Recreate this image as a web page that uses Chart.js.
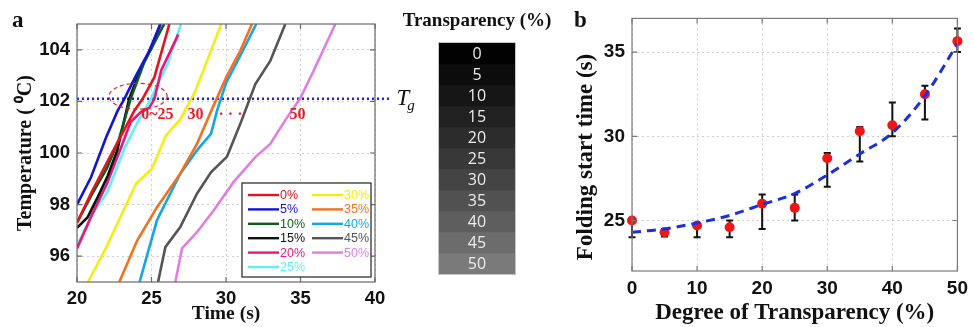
<!DOCTYPE html>
<html lang="en">
<head>
<meta charset="utf-8">
<title>Heating curves and folding start time</title>
<script src="https://cdn.jsdelivr.net/npm/chart.js@4.4.1/dist/chart.umd.min.js"></script>
<style>
  html, body { margin: 0; padding: 0; background: #fff; }
  #figure { position: relative; width: 974px; height: 327px; overflow: hidden; background: #fff; }
  #figure canvas { position: absolute; top: 0; display: block; }
</style>
</head>
<body>
<div id="figure">
  <canvas id="panelA" width="420" height="327" style="left:0"></canvas>
  <canvas id="swatch" width="160" height="327" style="left:400px"></canvas>
  <canvas id="panelB" width="404" height="327" style="left:570px"></canvas>
</div>
<script>
// ---------- Panel a: temperature vs time for each transparency ----------
const timeTicks = [20, 25, 30, 35, 40];
const tempTicks = [96, 98, 100, 102, 104];
const curveLabels = ['0%', '5%', '10%', '15%', '20%', '25%', '30%', '35%', '40%', '45%', '50%'];

// [time (s), temperature (°C)] samples of each heating curve
const curve0  = [[20, 97.3], [21, 98.5], [22.2, 99.84], [23.85, 101.64], [24.4, 102.1], [25.19, 102.93], [26.2, 105]];
const curve5  = [[20, 98.0], [20.94, 99.06], [21.95, 100.6], [22.73, 101.64], [23.18, 102.1], [23.96, 103.0], [24.8, 103.9], [25.6, 105]];
const curve10 = [[20, 97.3], [21, 98.4], [22, 99.4], [22.8, 100.5], [23.6, 102.1], [24.5, 103.5], [25.85, 105]];
const curve15 = [[20, 97.1], [20.7, 97.5], [21.4, 98.3], [22.05, 99.1], [22.7, 100.1], [23.5, 102.1], [24.3, 103.3], [25.0, 104.1], [25.6, 105]];
const curve20 = [[20, 96.3], [21, 97.6], [22, 98.8], [22.95, 100.2], [23.6, 101.2], [24.3, 101.6], [24.85, 101.75], [25.2, 102.1], [25.65, 103.2], [26.8, 104.6]];
const curve25 = [[20, 96.4], [21, 97.6], [22.05, 98.5], [23.2, 100.2], [24.07, 101.2], [24.97, 102.1], [25.41, 102.67], [26.08, 103.45], [26.98, 105]];
const curve30 = [[20.74, 95], [21.97, 96.35], [22.9, 97.5], [23.98, 98.83], [25.03, 99.39], [25.97, 100.68], [26.93, 101.3], [27.94, 102.4], [28.95, 103.9], [29.68, 105]];
const curve35 = [[22.84, 95], [24.03, 96.6], [25.37, 97.9], [26.93, 99.2], [28.05, 100.35], [29.06, 101.7], [30.07, 103.0], [30.96, 103.96], [31.74, 105]];
const curve40 = [[24.2, 95], [25.37, 97.4], [26.93, 99.2], [28.05, 100.1], [28.99, 100.74], [29.4, 101.64], [30.02, 102.74], [30.96, 103.77], [32.03, 105]];
const curve45 = [[25.44, 95], [25.93, 96.35], [26.93, 97.13], [28.05, 98.42], [28.99, 99.25], [30.07, 99.86], [30.96, 101.13], [31.97, 102.67], [32.97, 103.57], [33.98, 105]];
const curve50 = [[26.6, 95], [27.05, 96.3], [28.05, 96.93], [29.17, 97.77], [30.5, 98.87], [31.97, 99.84], [32.97, 100.35], [34.1, 101.38], [34.99, 102.13], [35.88, 103.19], [37.34, 105]];
const heatingCurves = [curve0, curve5, curve10, curve15, curve20, curve25, curve30, curve35, curve40, curve45, curve50];

// glass transition temperature and the time where its marker line stops
const tgTemp = 102.1;
const tgLineEnd = 41.1;

// dashed ring around the 0–25 % crossings and the group notes under the Tg line
const ringCenter = { t: 24.1, temp: 102.2 };
const ringHalfSpan = { t: 1.95, temp: 0.5 };
const groupNotes = [
  { text: '0~25', t: 25.4, temp: 101.48 },
  { text: '30', t: 27.95, temp: 101.48 },
  { text: '\u00b7 \u00b7 \u00b7', t: 30.3, temp: 101.48 },
  { text: '50', t: 34.8, temp: 101.48 }
];

// ---------- Middle: grey scale of transparency levels ----------
const transparencyLevels = [0, 5, 10, 15, 20, 25, 30, 35, 40, 45, 50];

// ---------- Panel b: folding start time vs transparency ----------
const degreeTicks = [0, 10, 20, 30, 40, 50];
const startTicks = [25, 30, 35];
const degree = [0, 5, 10, 15, 20, 25, 30, 35, 40, 45, 50];
const startTime = [25.0, 24.3, 24.7, 24.6, 26.0, 25.75, 28.7, 30.3, 30.65, 32.5, 35.65];
const startLow  = [24.0, 24.05, 24.0, 24.0, 24.5, 25.0, 27.0, 28.5, 30.0, 31.0, 35.0];
const startHigh = [25.0, 24.5, 24.8, 25.0, 26.55, 26.55, 29.0, 30.55, 32.0, 33.0, 36.4];
const fitDegree = [0, 5, 10, 15, 20, 25, 30, 35, 40, 45, 50];
const fitTime = [24.3, 24.5, 24.85, 25.3, 25.95, 26.6, 27.7, 28.95, 30.2, 32.4, 35.5];

// ---------- styling ----------
const SERIF = "'Liberation Serif', 'Times New Roman', serif";
const SANS = "'Liberation Sans', Arial, sans-serif";
const curveColors = ['#e3141e', '#1414d6', '#0d5c1e', '#111111', '#ea167c', '#5ff0f4',
                     '#f4ee10', '#f2711f', '#15a6e6', '#555555', '#e07fe0'];
const swatchGrays = ['#020202', '#0c0c0c', '#161616', '#212121', '#2c2c2c', '#383838',
                     '#444444', '#515151', '#5e5e5e', '#6c6c6c', '#7a7a7a'];
const noteRed = '#e41f26';

function pairsToPoints(pairs) {
  return pairs.map(p => ({ x: p[0], y: p[1] }));
}

function fixedTicks(values) {
  return scale => { scale.ticks = values.map(v => ({ value: v })); };
}

// plot box with short inward tick marks on all four sides
function framePlugin(color) {
  return {
    id: 'frame',
    afterDatasetsDraw(chart) {
      const { ctx, chartArea: a, scales: { x, y } } = chart;
      ctx.save();
      ctx.strokeStyle = color;
      ctx.lineWidth = 1.2;
      ctx.strokeRect(a.left, a.top, a.right - a.left, a.bottom - a.top);
      ctx.beginPath();
      x.ticks.forEach(t => {
        const px = x.getPixelForValue(t.value);
        ctx.moveTo(px, a.bottom); ctx.lineTo(px, a.bottom - 5);
        ctx.moveTo(px, a.top); ctx.lineTo(px, a.top + 5);
      });
      y.ticks.forEach(t => {
        const py = y.getPixelForValue(t.value);
        ctx.moveTo(a.left, py); ctx.lineTo(a.left + 5, py);
        ctx.moveTo(a.right, py); ctx.lineTo(a.right - 5, py);
      });
      ctx.stroke();
      ctx.restore();
    }
  };
}

function letterPlugin(letter, px, py) {
  return {
    id: 'letter',
    afterDraw(chart) {
      const ctx = chart.ctx;
      ctx.save();
      ctx.font = 'bold 23px ' + SERIF;
      ctx.fillStyle = '#111';
      ctx.textBaseline = 'alphabetic';
      ctx.fillText(letter, px, py);
      ctx.restore();
    }
  };
}

const tickFont = size => ({ family: SANS, size: size, weight: 'bold' });
const dottedGrid = { color: '#cfcfcf', lineWidth: 1, drawTicks: false };
const dottedBorder = { display: false, dash: [2, 3] };

// ---------- Panel a ----------
const curveDatasets = heatingCurves.map((pairs, i) => ({
  label: curveLabels[i],
  data: pairsToPoints(pairs),
  borderColor: curveColors[i],
  backgroundColor: curveColors[i],
  borderWidth: 2.6,
  pointRadius: 0,
  tension: 0,
  inLegend: true
}));

const tgDataset = {
  label: 'Tg',
  data: [{ x: timeTicks[0], y: tgTemp }, { x: tgLineEnd, y: tgTemp }],
  borderColor: '#1b22f0',
  borderWidth: 2.5,
  borderDash: [2, 3],
  pointRadius: 0,
  clip: false,
  inLegend: false
};

const notesPlugin = {
  id: 'notes',
  afterDatasetsDraw(chart) {
    const { ctx, scales: { x, y } } = chart;
    ctx.save();
    // dashed ring
    const cx = x.getPixelForValue(ringCenter.t);
    const cy = y.getPixelForValue(ringCenter.temp);
    const rx = Math.abs(x.getPixelForValue(ringCenter.t + ringHalfSpan.t) - cx);
    const ry = Math.abs(y.getPixelForValue(ringCenter.temp + ringHalfSpan.temp) - cy);
    ctx.strokeStyle = noteRed;
    ctx.lineWidth = 1.2;
    ctx.setLineDash([4, 3]);
    ctx.beginPath();
    ctx.ellipse(cx, cy, rx, ry, 0, 0, Math.PI * 2);
    ctx.stroke();
    ctx.setLineDash([]);
    // group notes
    ctx.fillStyle = noteRed;
    ctx.font = 'bold 16px ' + SERIF;
    ctx.textAlign = 'center';
    ctx.textBaseline = 'middle';
    groupNotes.forEach(n => {
      ctx.fillText(n.text, x.getPixelForValue(n.t), y.getPixelForValue(n.temp));
    });
    // T_g label at the end of the marker line
    const tx = x.getPixelForValue(tgLineEnd) + 5;
    const ty = y.getPixelForValue(tgTemp);
    ctx.fillStyle = '#111';
    ctx.textAlign = 'left';
    ctx.textBaseline = 'alphabetic';
    ctx.font = 'italic 23px ' + SERIF;
    ctx.fillText('T', tx, ty + 6);
    const tw = ctx.measureText('T').width;
    ctx.font = 'italic 15px ' + SERIF;
    ctx.fillText('g', tx + tw - 2, ty + 11);
    ctx.restore();
  }
};

// two-column legend inside the lower right of the plot
const curveLegendPlugin = {
  id: 'curveLegend',
  afterDraw(chart) {
    const { ctx, chartArea: a } = chart;
    const items = chart.data.datasets.filter(d => d.inLegend);
    const boxLeft = a.left + 165, boxTop = a.top + 159, boxW = 129, boxH = 94;
    ctx.save();
    ctx.fillStyle = '#fff';
    ctx.fillRect(boxLeft, boxTop, boxW, boxH);
    ctx.strokeStyle = '#333';
    ctx.lineWidth = 1.3;
    ctx.strokeRect(boxLeft, boxTop, boxW, boxH);
    ctx.font = '12.5px ' + SANS;
    ctx.textBaseline = 'middle';
    ctx.textAlign = 'left';
    const perColumn = 6;
    items.forEach((d, i) => {
      const col = Math.floor(i / perColumn);
      const row = i % perColumn;
      const lx = boxLeft + 6 + col * 64;
      const ly = boxTop + 12 + row * 14.4;
      ctx.strokeStyle = d.borderColor;
      ctx.lineWidth = 2.4;
      ctx.beginPath();
      ctx.moveTo(lx, ly);
      ctx.lineTo(lx + 31, ly);
      ctx.stroke();
      ctx.fillStyle = d.borderColor;
      ctx.fillText(d.label, lx + 32, ly + 0.5);
    });
    ctx.restore();
  }
};

new Chart(document.getElementById('panelA'), {
  type: 'line',
  data: { datasets: [...curveDatasets, tgDataset] },
  options: {
    responsive: false,
    animation: false,
    events: [],
    layout: { padding: { left: 0, right: 45, top: 24, bottom: 0 } },
    plugins: { legend: { display: false }, tooltip: { enabled: false } },
    scales: {
      x: {
        type: 'linear', min: 20, max: 40,
        afterBuildTicks: fixedTicks(timeTicks),
        afterFit: s => { s.height = 45; },
        grid: dottedGrid, border: dottedBorder,
        ticks: { font: tickFont(18.5), color: '#111', padding: 6 },
        title: { display: true, text: 'Time (s)', color: '#111',
                 font: { family: SERIF, size: 19.5, weight: 'bold' }, padding: { top: 0, bottom: 1 } }
      },
      y: {
        type: 'linear', min: 95, max: 105,
        afterBuildTicks: fixedTicks(tempTicks),
        afterFit: s => { s.width = 77; },
        grid: dottedGrid, border: dottedBorder,
        ticks: { font: tickFont(18.5), color: '#111', padding: 7 },
        title: { display: true, text: 'Temperature ( \u2070C)', color: '#111',
                 font: { family: SERIF, size: 20, weight: 'bold' }, padding: { top: 14, bottom: 0 } }
      }
    }
  },
  plugins: [framePlugin('#6a6a6a'), notesPlugin, curveLegendPlugin, letterPlugin('a', 12, 27)]
});

// ---------- Grey scale column ----------
const swatchTextPlugin = {
  id: 'swatchText',
  afterDatasetsDraw(chart) {
    const { ctx, chartArea: a } = chart;
    ctx.save();
    ctx.strokeStyle = '#c4c4c4';
    ctx.lineWidth = 1;
    ctx.strokeRect(a.left - 0.5, a.top - 0.5, a.right - a.left + 1, a.bottom - a.top + 1);
    ctx.font = "16px 'Open Sans', 'DejaVu Sans', sans-serif";
    ctx.fillStyle = '#ececec';
    ctx.textAlign = 'center';
    ctx.textBaseline = 'middle';
    chart.data.datasets.forEach((d, i) => {
      const bar = chart.getDatasetMeta(i).data[0];
      ctx.fillText(d.label, bar.x, (bar.y + bar.base) / 2 + 1);
    });
    ctx.fillStyle = '#111';
    ctx.font = 'bold 19px ' + SERIF;
    ctx.fillText('Transparency (%)', (a.left + a.right) / 2, 21);
    ctx.restore();
  }
};

new Chart(document.getElementById('swatch'), {
  type: 'bar',
  data: {
    labels: ['Transparency'],
    datasets: transparencyLevels.map((lvl, i) => ({
      label: String(lvl),
      data: [1],
      backgroundColor: swatchGrays[i],
      borderWidth: 0,
      barPercentage: 1,
      categoryPercentage: 1
    }))
  },
  options: {
    responsive: false,
    animation: false,
    events: [],
    layout: { padding: { left: 39, right: 45, top: 43, bottom: 53 } },
    plugins: { legend: { display: false }, tooltip: { enabled: false } },
    scales: {
      x: { display: false, stacked: true },
      y: { display: false, stacked: true, reverse: true, min: 0, max: transparencyLevels.length }
    }
  },
  plugins: [swatchTextPlugin]
});

// ---------- Panel b ----------
const errorBarPlugin = {
  id: 'errorBars',
  beforeDatasetsDraw(chart) {
    const { ctx, scales: { x, y } } = chart;
    ctx.save();
    ctx.strokeStyle = '#111';
    ctx.lineWidth = 2;
    ctx.beginPath();
    degree.forEach((d, i) => {
      const px = x.getPixelForValue(d);
      const lo = y.getPixelForValue(startLow[i]);
      const hi = y.getPixelForValue(startHigh[i]);
      ctx.moveTo(px, lo); ctx.lineTo(px, hi);
      ctx.moveTo(px - 3.5, lo); ctx.lineTo(px + 3.5, lo);
      ctx.moveTo(px - 3.5, hi); ctx.lineTo(px + 3.5, hi);
    });
    ctx.stroke();
    ctx.restore();
  }
};

const yTitleB = {
  id: 'yTitleB',
  afterDraw(chart) {
    const ctx = chart.ctx;
    ctx.save();
    ctx.translate(16, 157);
    ctx.rotate(-Math.PI / 2);
    ctx.font = 'bold 23px ' + SERIF;
    ctx.fillStyle = '#111';
    ctx.textAlign = 'center';
    ctx.textBaseline = 'middle';
    ctx.fillText('Folding start time (s)', 0, 0);
    ctx.restore();
  }
};

new Chart(document.getElementById('panelB'), {
  type: 'line',
  data: {
    datasets: [
      {
        label: 'Fit',
        data: fitDegree.map((d, i) => ({ x: d, y: fitTime[i] })),
        borderColor: '#1a2fe0',
        borderWidth: 3,
        borderDash: [9, 6],
        pointRadius: 0,
        tension: 0.4,
        cubicInterpolationMode: 'monotone'
      },
      {
        label: 'Folding start time',
        data: degree.map((d, i) => ({ x: d, y: startTime[i] })),
        showLine: false,
        pointRadius: 5,
        pointBackgroundColor: '#f01616',
        pointBorderColor: '#f01616',
        pointBorderWidth: 0,
        clip: false
      }
    ]
  },
  options: {
    responsive: false,
    animation: false,
    events: [],
    layout: { padding: { left: 0, right: 13, top: 14, bottom: 0 } },
    plugins: { legend: { display: false }, tooltip: { enabled: false } },
    scales: {
      x: {
        type: 'linear', min: 0, max: 50,
        afterBuildTicks: fixedTicks(degreeTicks),
        afterFit: s => { s.height = 56; },
        grid: dottedGrid, border: dottedBorder,
        ticks: { font: tickFont(19), color: '#111', padding: 6 },
        title: { display: true, text: 'Degree of Transparency (%)', color: '#111',
                 font: { family: SERIF, size: 23, weight: 'bold' }, padding: { top: 0, bottom: 0 } }
      },
      y: {
        type: 'linear', min: 22, max: 37,
        afterBuildTicks: fixedTicks(startTicks),
        afterFit: s => { s.width = 62; },
        grid: dottedGrid, border: dottedBorder,
        ticks: { font: tickFont(19), color: '#111', padding: 7 }
      }
    }
  },
  plugins: [errorBarPlugin, framePlugin('#7a7a7a'), yTitleB, letterPlugin('b', 4, 27)]
});
</script>
</body>
</html>
